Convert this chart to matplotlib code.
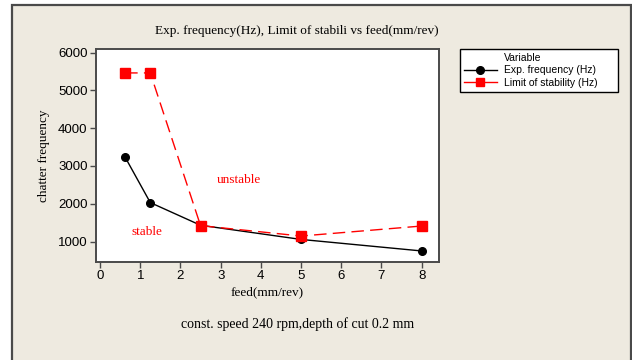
import matplotlib

matplotlib.use("Agg")
import matplotlib.pyplot as plt
from matplotlib.lines import Line2D
from matplotlib.patches import Rectangle

# data
feed = [0.625, 1.25, 2.5, 5, 8]
exp_freq = [3230, 2030, 1430, 1055, 750]
limit_stab = [5460, 5460, 1420, 1145, 1410]
x_ticks = [0, 1, 2, 3, 4, 5, 6, 7, 8]
y_ticks = [1000, 2000, 3000, 4000, 5000, 6000]

BG = "#eeeae0"
FRAME = "#4a4a4a"
SERIF = "Liberation Serif"
SANS = "Liberation Sans"

fig = plt.figure(figsize=(6.32, 3.6), dpi=100, facecolor="white")

# beige panel with dark border
W, H = 632, 360
fig.patches.append(
    Rectangle((12 / W, -0.05), (631 - 12) / W, (360 - 5) / H + 0.05,
              transform=fig.transFigure, facecolor=BG, edgecolor=FRAME,
              linewidth=1.6, zorder=-1)
)

ax = fig.add_axes([96 / W, 1 - 262 / H, (439 - 96) / W, (262 - 49) / H])
ax.set_zorder(2)
ax.set_facecolor("white")

ax.plot(feed, exp_freq, color="black", linewidth=1, marker="o",
        markersize=5.5, label="Exp. frequency (Hz)")
ax.plot(feed, limit_stab, color="red", linewidth=1, dashes=(9, 4.5),
        marker="s", markersize=6.5, label="Limit of stability (Hz)")

ax.set_xlim(-0.1, 8.43)
ax.set_ylim(458, 6093)
ax.set_xticks(x_ticks)
ax.set_yticks(y_ticks)
for s in ax.spines.values():
    s.set_color(FRAME)
    s.set_linewidth(1.4)
ax.tick_params(direction="out", length=4, width=1, color=FRAME,
               labelsize=9.5, pad=2)
for lab in ax.get_xticklabels() + ax.get_yticklabels():
    lab.set_family(SANS)

ax.text(3.46, 2627, "unstable", color="red", fontsize=9.5, family=SERIF,
        ha="center", va="center")
ax.text(1.17, 1251, "stable", color="red", fontsize=9.5, family=SERIF,
        ha="center", va="center")

ax.set_xlabel("feed(mm/rev)", family=SERIF, fontsize=9.5, labelpad=3)
ax.set_ylabel("chatter frequency", family=SERIF, fontsize=9.5, labelpad=6)

fig.text(297 / W, 1 - 31 / H,
         "Exp. frequency(Hz), Limit of stabili vs feed(mm/rev)",
         family=SERIF, fontsize=9.5, ha="center", va="center")
fig.text(298 / W, 1 - 324 / H, "const. speed 240 rpm,depth of cut 0.2 mm",
         family=SERIF, fontsize=10, ha="center", va="center")

# legend with "Variable" header aligned to labels
handles = [
    Line2D([], [], linestyle="none"),
    Line2D([], [], color="black", linewidth=1, marker="o", markersize=5.5),
    Line2D([], [], color="red", linewidth=1, marker="s", markersize=6),
]
labels = ["Variable", "Exp. frequency (Hz)", "Limit of stability (Hz)"]
leg = fig.legend(handles, labels, loc="upper left",
                 bbox_to_anchor=(460 / W, 1 - 49 / H, (618 - 460) / W, 0),
                 mode="expand", borderaxespad=0, fancybox=False,
                 framealpha=1, edgecolor="black", handlelength=3.2,
                 handletextpad=0.7, labelspacing=0.25, borderpad=0.35,
                 prop={"family": SANS, "size": 7.5})
leg.get_frame().set_linewidth(1)
leg.set_zorder(3)

fig.savefig("out.png", dpi=100, facecolor="white")
